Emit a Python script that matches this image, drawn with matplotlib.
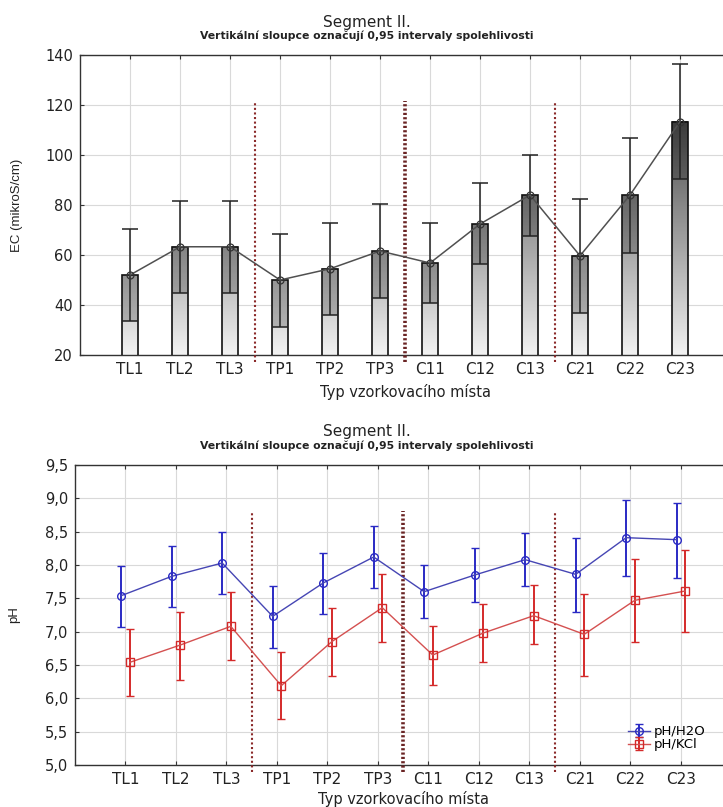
import numpy as np
import matplotlib
matplotlib.use("Agg")
from matplotlib import pyplot as plt
from matplotlib.colors import LinearSegmentedColormap

plt.rcParams['font.family'] = ['DejaVu Sans']

sites = ["TL1", "TL2", "TL3", "TP1", "TP2", "TP3",
         "C11", "C12", "C13", "C21", "C22", "C23"]

# EC (mikroS/cm): mean, upper and lower 0.95 CI bounds
ec_mean = [52, 63.3, 63.3, 50, 54.5, 61.6, 56.8, 72.4, 84, 59.7, 84, 113.4]
ec_upper = [70.5, 81.7, 81.7, 68.3, 73, 80.4, 73, 88.7, 100, 82.4, 106.7, 136.3]
ec_lower = [33.8, 44.8, 44.8, 31.4, 36, 43, 41, 56.6, 67.8, 36.8, 61, 90.6]

# pH/H2O
h2o_mean = [7.54, 7.83, 8.03, 7.23, 7.73, 8.12, 7.60, 7.85, 8.08, 7.86, 8.41, 8.38]
h2o_upper = [7.99, 8.28, 8.49, 7.68, 8.18, 8.59, 8.00, 8.25, 8.48, 8.40, 8.98, 8.93]
h2o_lower = [7.07, 7.37, 7.57, 6.76, 7.27, 7.66, 7.20, 7.45, 7.69, 7.29, 7.84, 7.81]

# pH/KCl
kcl_mean = [6.54, 6.80, 7.08, 6.19, 6.85, 7.36, 6.65, 6.98, 7.24, 6.96, 7.47, 7.61]
kcl_upper = [7.04, 7.29, 7.59, 6.69, 7.35, 7.87, 7.08, 7.41, 7.70, 7.57, 8.09, 8.22]
kcl_lower = [6.04, 6.28, 6.57, 5.69, 6.34, 6.85, 6.20, 6.55, 6.81, 6.34, 6.85, 7.00]

ec_ticks = [20, 40, 60, 80, 100, 120, 140]
ph_ticks = [5.0, 5.5, 6.0, 6.5, 7.0, 7.5, 8.0, 8.5, 9.0, 9.5]
ph_ticklabels = ["5,0", "5,5", "6,0", "6,5", "7,0", "7,5", "8,0", "8,5", "9,0", "9,5"]
dividers = [3.5, 6.5, 9.5]

title = "Segment II."
subtitle = "Vertikální sloupce označují 0,95 intervaly spolehlivosti"
xlab = "Typ vzorkovacího místa"

x = np.arange(1, len(sites) + 1)
grad = LinearSegmentedColormap.from_list("g", ["#f2f2f2", "#1c1c1c"])


def style_axes(ax, xlab_y):
    ax.set_xlim(0, len(sites) + 1)
    ax.set_xticks(x)
    ax.set_xticklabels(sites, fontsize=11)
    ax.grid(True, color="#d9d9d9", lw=0.8)
    ax.set_axisbelow(True)
    ax.tick_params(direction="in", length=3, top=True, right=False,
                   labelsize=10.5, pad=5, color="#333333", labelcolor="#222222")
    ax.tick_params(axis="x", labelsize=11)
    for s in ax.spines.values():
        s.set_color("#333333")
        s.set_linewidth(1.0)
    ax.set_xlabel(xlab, fontsize=10.5, color="#222222")
    ax.xaxis.label.set_va("center")
    ax.xaxis.set_label_coords(0.5, xlab_y)


def draw_dividers(ax, y0, y1):
    for i, d in enumerate(dividers):
        if i == 1:
            ax.plot([d, d], [y0, y1], color="#6a2424", lw=2.6,
                    ls=(0, (0.6, 0.6)), clip_on=False, zorder=4)
        else:
            ax.plot([d, d], [y0, y1], color="#8b2a2a", lw=1.5,
                    ls=(0, (1, 1.2)), clip_on=False, zorder=4)


fig = plt.figure(figsize=(7.23, 8.07), dpi=100)

# --- EC panel ---
ax1 = fig.add_axes([0.1107, 0.5601, 0.899, 0.3717])
style_axes(ax1, -0.123)
w = 0.31
for xi, m in zip(x, ec_mean):
    gimg = np.linspace(20, m, 256).reshape(-1, 1)
    ax1.imshow(gimg, cmap=grad, vmin=20, vmax=140, origin="lower", aspect="auto",
               extent=(xi - w / 2, xi + w / 2, 20, m), zorder=2)
# darker band between lower CI bound and mean
ax1.bar(x, np.array(ec_mean) - np.array(ec_lower), bottom=ec_lower, width=w,
        color="black", alpha=0.2, lw=0, zorder=2.5)
ax1.bar(x, ec_mean, width=w, fill=False, edgecolor="#111111", lw=1.2, zorder=3)
yerr = [np.array(ec_mean) - np.array(ec_lower), np.array(ec_upper) - np.array(ec_mean)]
ax1.errorbar(x, ec_mean, yerr=yerr, fmt="none", ecolor="#222222",
             elinewidth=1.1, capsize=5.8, capthick=1.1, zorder=5)
ax1.plot(x, ec_mean, color="#505050", lw=1.1, marker="o", ms=5,
         mfc="none", mec="#333333", mew=0.9, zorder=6)
ax1.set_ylim(20, 140)
ax1.set_yticks(ec_ticks)
ax1.set_ylabel("EC (mikroS/cm)", fontsize=9.5, family="Liberation Sans", color="#222222")
ax1.yaxis.set_label_coords(-0.088, 0.5)
draw_dividers(ax1, 17.2, 121.5)

fig.text(0.5076, 0.9727, title, ha="center", va="center", fontsize=11, color="#222222")
fig.text(0.5076, 0.9554, subtitle, ha="center", va="center",
         fontsize=7.8, fontweight="bold", color="#222222")

# --- pH panel ---
ax2 = fig.add_axes([0.1037, 0.0520, 0.908, 0.3718])
style_axes(ax2, -0.112)
off = 0.085
h_err = [np.array(h2o_mean) - np.array(h2o_lower), np.array(h2o_upper) - np.array(h2o_mean)]
k_err = [np.array(kcl_mean) - np.array(kcl_lower), np.array(kcl_upper) - np.array(kcl_mean)]
ax2.errorbar(x - off, h2o_mean, yerr=h_err, color="#4646b4", ecolor="#2a2ac4",
             lw=1.0, elinewidth=1.4, capsize=3, capthick=1.2, marker="o",
             ms=5.5, mfc="none", mec="#2a2ac4", mew=1.0, label="pH/H2O", zorder=5)
ax2.errorbar(x + off, kcl_mean, yerr=k_err, color="#d45050", ecolor="#d42a2a",
             lw=1.0, elinewidth=1.4, capsize=3, capthick=1.2, marker="s",
             ms=5.5, mfc="none", mec="#d42a2a", mew=1.0, label="pH/KCl", zorder=5)
ax2.set_ylim(5.0, 9.5)
ax2.set_yticks(ph_ticks)
ax2.set_yticklabels(ph_ticklabels)
ax2.set_ylabel("pH", fontsize=9.5, family="Liberation Sans", color="#222222")
ax2.yaxis.set_label_coords(-0.084, 0.5)
draw_dividers(ax2, 4.9, 8.81)
ax2.legend(loc="lower left", bbox_to_anchor=(0.83, 0.02), frameon=False,
           fontsize=9.5, handlelength=1.7, handletextpad=0.3,
           labelspacing=0.0, borderpad=0.1)

fig.text(0.5076, 0.4647, title, ha="center", va="center", fontsize=11, color="#222222")
fig.text(0.5076, 0.4473, subtitle, ha="center", va="center",
         fontsize=7.8, fontweight="bold", color="#222222")

fig.savefig("out.png", dpi=100)
